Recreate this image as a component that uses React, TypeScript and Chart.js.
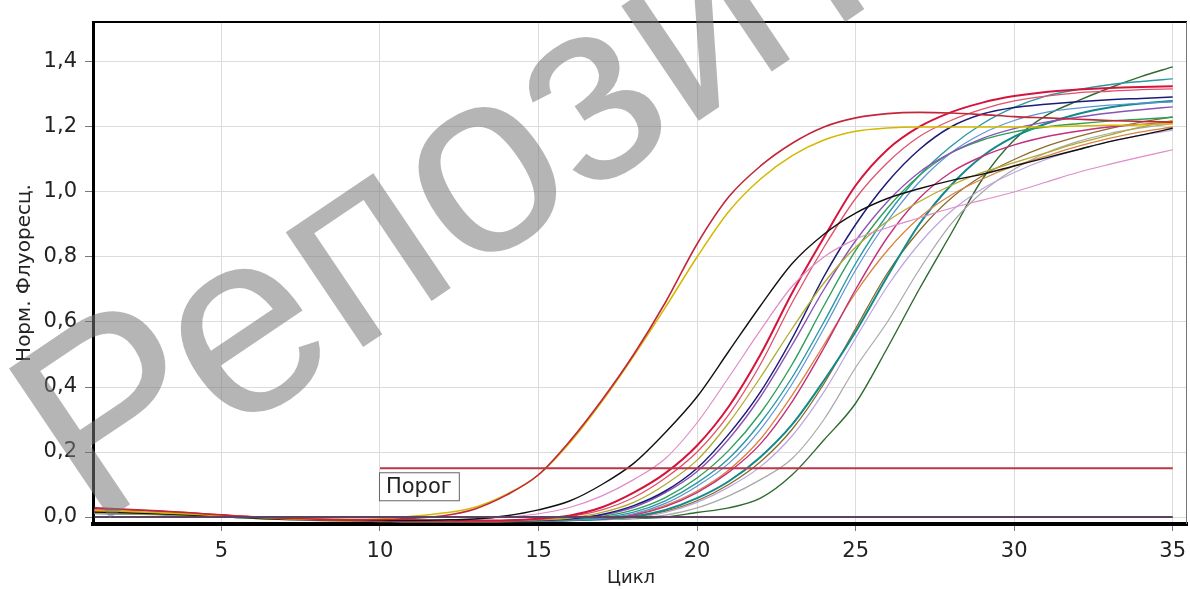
import { useEffect, useRef } from "react";
import { Chart, registerables } from "chart.js";

Chart.register(...registerables);

const CYCLES = [1, 2, 3, 4, 5, 6, 7, 8, 9, 10, 11, 12, 13, 14, 15, 16, 17, 18, 19, 20, 21, 22, 23, 24, 25, 26, 27, 28, 29, 30, 31, 32, 33, 34, 35];
const X_TICKS = [5, 10, 15, 20, 25, 30, 35];
const Y_TICKS = [0, 0.2, 0.4, 0.6, 0.8, 1.0, 1.2, 1.4];
const THRESHOLD = 0.15;
const THRESHOLD_FROM = 10;
const THRESHOLD_TO = 35;
const THRESHOLD_LABEL = "Порог";
const X_TITLE = "Цикл";
const Y_TITLE = "Норм. Флуоресц.";
const WATERMARK = "Репозиторий";

const E1 = [0.028, 0.024, 0.019, 0.013, 0.006, 0.0, -0.004, -0.007, -0.008, -0.008, -0.004, 0.004, 0.025, 0.068, 0.13, 0.235, 0.36, 0.5, 0.66, 0.84, 0.985, 1.08, 1.15, 1.2, 1.228, 1.241, 1.245, 1.243, 1.238, 1.232, 1.228, 1.224, 1.22, 1.217, 1.215];
const E2 = [0.02, 0.017, 0.013, 0.009, 0.004, -0.001, -0.005, -0.007, -0.008, -0.006, 0.002, 0.012, 0.03, 0.07, 0.13, 0.23, 0.355, 0.495, 0.645, 0.8, 0.94, 1.04, 1.112, 1.16, 1.187, 1.197, 1.2, 1.2, 1.2, 1.2, 1.201, 1.203, 1.205, 1.207, 1.21];
const BLACK = [0.015, 0.013, 0.01, 0.006, 0.002, -0.003, -0.006, -0.008, -0.009, -0.01, -0.01, -0.009, -0.006, 0.004, 0.022, 0.05, 0.1, 0.165, 0.26, 0.37, 0.51, 0.65, 0.78, 0.87, 0.935, 0.98, 1.01, 1.035, 1.055, 1.08, 1.105, 1.13, 1.155, 1.175, 1.196];
const PINK = [0.022, 0.019, 0.015, 0.01, 0.004, -0.001, -0.005, -0.007, -0.009, -0.01, -0.01, -0.009, -0.006, 0.0, 0.01, 0.03, 0.065, 0.115, 0.18, 0.29, 0.43, 0.575, 0.71, 0.8, 0.855, 0.89, 0.92, 0.95, 0.975, 1.0, 1.03, 1.06, 1.085, 1.108, 1.13];
const CRIMSON = [0.025, 0.021, 0.017, 0.012, 0.006, 0.0, -0.004, -0.007, -0.009, -0.01, -0.011, -0.011, -0.011, -0.01, -0.005, 0.005, 0.03, 0.075, 0.135, 0.22, 0.34, 0.5, 0.69, 0.86, 1.02, 1.13, 1.2, 1.245, 1.275, 1.295, 1.308, 1.315, 1.32, 1.323, 1.325];
const SALMON = [0.018, 0.015, 0.012, 0.008, 0.003, -0.002, -0.006, -0.008, -0.01, -0.011, -0.011, -0.012, -0.012, -0.011, -0.006, 0.002, 0.022, 0.06, 0.12, 0.2, 0.315, 0.47, 0.66, 0.83, 0.98, 1.09, 1.17, 1.22, 1.255, 1.28, 1.295, 1.305, 1.31, 1.315, 1.317];
const OLIVE = [0.012, 0.01, 0.008, 0.005, 0.001, -0.003, -0.006, -0.008, -0.009, -0.01, -0.011, -0.012, -0.012, -0.012, -0.009, -0.003, 0.014, 0.045, 0.1, 0.175, 0.29, 0.43, 0.58, 0.72, 0.83, 0.91, 0.97, 1.02, 1.06, 1.09, 1.12, 1.15, 1.175, 1.2, 1.22];
const NAVY = [0.016, 0.014, 0.011, 0.007, 0.003, -0.002, -0.006, -0.008, -0.01, -0.011, -0.012, -0.012, -0.012, -0.012, -0.01, -0.005, 0.008, 0.035, 0.08, 0.15, 0.255, 0.385, 0.55, 0.74, 0.9, 1.03, 1.13, 1.2, 1.24, 1.26, 1.27, 1.278, 1.284, 1.288, 1.292];
const PURPLE = [0.02, 0.017, 0.013, 0.009, 0.004, -0.001, -0.005, -0.008, -0.009, -0.01, -0.011, -0.012, -0.012, -0.012, -0.011, -0.006, 0.006, 0.03, 0.075, 0.14, 0.24, 0.37, 0.53, 0.7, 0.85, 0.97, 1.06, 1.12, 1.165, 1.195, 1.215, 1.23, 1.243, 1.253, 1.262];
const GREEN = [0.014, 0.012, 0.009, 0.006, 0.002, -0.003, -0.006, -0.008, -0.01, -0.011, -0.012, -0.012, -0.013, -0.012, -0.011, -0.007, 0.002, 0.022, 0.06, 0.12, 0.205, 0.32, 0.47, 0.65, 0.82, 0.95, 1.05, 1.12, 1.16, 1.185, 1.2, 1.21, 1.218, 1.224, 1.23];
const TEAL = [0.017, 0.014, 0.011, 0.007, 0.003, -0.002, -0.006, -0.008, -0.01, -0.011, -0.012, -0.012, -0.013, -0.013, -0.012, -0.008, -0.002, 0.015, 0.05, 0.105, 0.18, 0.29, 0.43, 0.6, 0.78, 0.93, 1.05, 1.14, 1.21, 1.26, 1.295, 1.315, 1.33, 1.34, 1.348];
const LIGHTBLUE = [0.01, 0.009, 0.007, 0.004, 0.0, -0.004, -0.007, -0.009, -0.01, -0.011, -0.012, -0.013, -0.013, -0.013, -0.012, -0.009, -0.004, 0.01, 0.042, 0.095, 0.165, 0.27, 0.41, 0.58, 0.76, 0.91, 1.03, 1.12, 1.18, 1.22, 1.245, 1.258, 1.267, 1.273, 1.277];
const MAGENTA = [0.023, 0.02, 0.016, 0.011, 0.005, -0.001, -0.005, -0.008, -0.01, -0.011, -0.012, -0.012, -0.012, -0.012, -0.011, -0.009, -0.005, 0.006, 0.032, 0.075, 0.138, 0.225, 0.355, 0.52, 0.7, 0.86, 0.98, 1.06, 1.11, 1.145, 1.17, 1.187, 1.2, 1.208, 1.215];
const ORANGE = [0.013, 0.011, 0.008, 0.005, 0.001, -0.004, -0.008, -0.011, -0.013, -0.014, -0.015, -0.015, -0.015, -0.014, -0.012, -0.009, -0.004, 0.008, 0.036, 0.08, 0.145, 0.24, 0.375, 0.53, 0.69, 0.82, 0.92, 0.99, 1.04, 1.08, 1.11, 1.14, 1.165, 1.185, 1.2];
const DARKTEAL = [0.015, 0.013, 0.01, 0.006, 0.002, -0.003, -0.007, -0.009, -0.011, -0.012, -0.013, -0.013, -0.013, -0.013, -0.012, -0.01, -0.006, 0.002, 0.022, 0.058, 0.11, 0.185, 0.285, 0.42, 0.57, 0.74, 0.9, 1.02, 1.11, 1.17, 1.21, 1.24, 1.26, 1.272, 1.28];
const BROWN = [0.019, 0.016, 0.012, 0.008, 0.003, -0.002, -0.006, -0.009, -0.011, -0.012, -0.013, -0.013, -0.013, -0.013, -0.012, -0.01, -0.006, 0.0, 0.018, 0.05, 0.1, 0.17, 0.27, 0.41, 0.58, 0.75, 0.88, 0.98, 1.05, 1.1, 1.14, 1.17, 1.195, 1.215, 1.231];
const LAVENDER = [0.011, 0.009, 0.007, 0.004, 0.0, -0.004, -0.007, -0.009, -0.011, -0.012, -0.012, -0.013, -0.013, -0.013, -0.012, -0.01, -0.007, -0.002, 0.014, 0.045, 0.092, 0.155, 0.25, 0.385, 0.55, 0.71, 0.84, 0.94, 1.01, 1.06, 1.1, 1.13, 1.155, 1.175, 1.19];
const GRAY = [0.016, 0.013, 0.01, 0.006, 0.002, -0.003, -0.007, -0.009, -0.011, -0.012, -0.012, -0.013, -0.013, -0.013, -0.012, -0.011, -0.008, -0.004, 0.006, 0.028, 0.065, 0.115, 0.18, 0.3, 0.46, 0.6, 0.76, 0.9, 1.0, 1.07, 1.12, 1.155, 1.18, 1.197, 1.21];
const DARKGREEN = [0.012, 0.01, 0.008, 0.005, 0.001, -0.003, -0.006, -0.008, -0.01, -0.011, -0.012, -0.012, -0.012, -0.012, -0.011, -0.01, -0.008, -0.005, 0.0, 0.014, 0.028, 0.058, 0.13, 0.237, 0.35, 0.52, 0.7, 0.87, 1.04, 1.16, 1.235, 1.28, 1.32, 1.355, 1.385];

const SERIES: [number[], string, number][] = [
  [E1, "#c0283a", 1.6],
  [E2, "#d4b800", 1.5],
  [BLACK, "#111111", 1.4],
  [PINK, "#e08cc8", 1.2],
  [CRIMSON, "#d4143c", 2.0],
  [SALMON, "#e0506a", 1.3],
  [OLIVE, "#b0aa30", 1.3],
  [NAVY, "#1c1c78", 1.5],
  [PURPLE, "#8a54b4", 1.4],
  [GREEN, "#2ea058", 1.4],
  [TEAL, "#2a9aa0", 1.4],
  [LIGHTBLUE, "#5a94d8", 1.2],
  [MAGENTA, "#c4307c", 1.4],
  [ORANGE, "#d88440", 1.3],
  [DARKTEAL, "#138a8a", 2.0],
  [BROWN, "#8c6a2c", 1.3],
  [LAVENDER, "#bca4dc", 1.2],
  [GRAY, "#a8a8a8", 1.2],
  [DARKGREEN, "#2f6a30", 1.4],
];

const FONT_TICK = "'DejaVu Sans', sans-serif";

export default function App() {
  const ref = useRef<HTMLCanvasElement | null>(null);

  useEffect(() => {
    const canvas = ref.current;
    if (!canvas) return;

    const framePlugin = {
      id: "frame",
      afterDatasetsDraw(chart: any) {
        const { ctx, chartArea, scales } = chart;
        ctx.save();
        ctx.strokeStyle = "#000";
        ctx.lineWidth = 2;
        ctx.beginPath();
        ctx.moveTo(chartArea.left, chartArea.top);
        ctx.lineTo(chartArea.right, chartArea.top);
        ctx.stroke();
        ctx.strokeStyle = "#777";
        ctx.lineWidth = 1;
        ctx.beginPath();
        ctx.moveTo(chartArea.right - 0.5, chartArea.top);
        ctx.lineTo(chartArea.right - 0.5, chartArea.bottom);
        ctx.stroke();
        const bx = scales.x.getPixelForValue(THRESHOLD_FROM) - 1;
        const by = scales.y.getPixelForValue(THRESHOLD) + 4;
        ctx.font = "21px " + FONT_TICK;
        const tw = ctx.measureText(THRESHOLD_LABEL).width;
        const bw = tw + 14;
        const bh = 28;
        ctx.fillStyle = "#fff";
        ctx.fillRect(bx + 0.5, by + 0.5, bw, bh);
        ctx.strokeStyle = "#666";
        ctx.lineWidth = 1;
        ctx.strokeRect(bx + 0.5, by + 0.5, bw, bh);
        ctx.fillStyle = "#222";
        ctx.textBaseline = "middle";
        ctx.textAlign = "left";
        ctx.fillText(THRESHOLD_LABEL, bx + 7, by + bh / 2 + 1);
        // x-axis title
        ctx.font = "18px " + FONT_TICK;
        ctx.textAlign = "center";
        ctx.textBaseline = "middle";
        ctx.fillText(X_TITLE, 631, 578);
        ctx.restore();
      },
      afterDraw(chart: any) {
        const { ctx } = chart;
        ctx.save();
        ctx.translate(92, 530);
        ctx.rotate((-34 * Math.PI) / 180);
        ctx.font = "262px 'Liberation Sans', Arial, sans-serif";
        ctx.fillStyle = "rgba(120,120,120,0.55)";
        ctx.textBaseline = "alphabetic";
        ctx.textAlign = "left";
        ctx.fillText(WATERMARK, 0, 0);
        ctx.restore();
      },
    };

    const datasets: any[] = [
      {
        data: [
          { x: THRESHOLD_FROM, y: THRESHOLD },
          { x: THRESHOLD_TO, y: THRESHOLD },
        ],
        borderColor: "#b83848",
        borderWidth: 2,
        pointRadius: 0,
      },
      {
        data: [
          { x: CYCLES[0], y: 0 },
          { x: CYCLES[CYCLES.length - 1], y: 0 },
        ],
        borderColor: "#5a4260",
        borderWidth: 2,
        pointRadius: 0,
      },
      ...SERIES.map(([vals, color, w]) => ({
        data: vals.map((v, i) => ({ x: CYCLES[i], y: v })),
        borderColor: color,
        borderWidth: w,
        pointRadius: 0,
        cubicInterpolationMode: "monotone",
      })),
    ];

    const chart = new Chart(canvas, {
      type: "line",
      data: { datasets },
      options: {
        animation: false,
        responsive: false,
        maintainAspectRatio: false,
        layout: { padding: { top: 22, right: 3, left: 0, bottom: 0 } },
        plugins: { legend: { display: false }, tooltip: { enabled: false } },
        scales: {
          x: {
            type: "linear",
            min: 0.95,
            max: 35.45,
            afterFit: (s: any) => {
              s.height = 65;
              s.paddingLeft = 0;
              s.paddingRight = 0;
            },
            afterBuildTicks: (s: any) => {
              s.ticks = X_TICKS.map((v) => ({ value: v }));
            },
            grid: { color: "#dcdcdc", lineWidth: 1, tickLength: 7, tickColor: "#777" },
            border: { color: "#000", width: 4 },
            ticks: {
              color: "#222",
              padding: 8,
              font: { family: FONT_TICK, size: 21 },
              maxRotation: 0,
              autoSkip: false,
            },
            title: { display: false },
          },
          y: {
            type: "linear",
            min: -0.0215,
            max: 1.523,
            afterFit: (s: any) => {
              s.width = 93;
            },
            afterBuildTicks: (s: any) => {
              s.ticks = Y_TICKS.map((v) => ({ value: v }));
            },
            grid: { color: "#dcdcdc", lineWidth: 1, tickLength: 8, tickColor: "#777" },
            border: { color: "#000", width: 3 },
            ticks: {
              color: "#222",
              padding: 8,
              font: { family: FONT_TICK, size: 21 },
              callback: (v: any) => Number(v).toFixed(1).replace(".", ","),
            },
            title: {
              display: true,
              text: Y_TITLE,
              color: "#222",
              font: { family: FONT_TICK, size: 20 },
              padding: { top: 13, bottom: 0 },
            },
          },
        },
      },
      plugins: [framePlugin],
    });

    return () => chart.destroy();
  }, []);

  return (
    <div style={{ position: "absolute", left: 0, top: 0, width: 1190, height: 589, background: "#fff" }}>
      <canvas ref={ref} width={1190} height={589} style={{ width: 1190, height: 589, display: "block" }} />
    </div>
  );
}
